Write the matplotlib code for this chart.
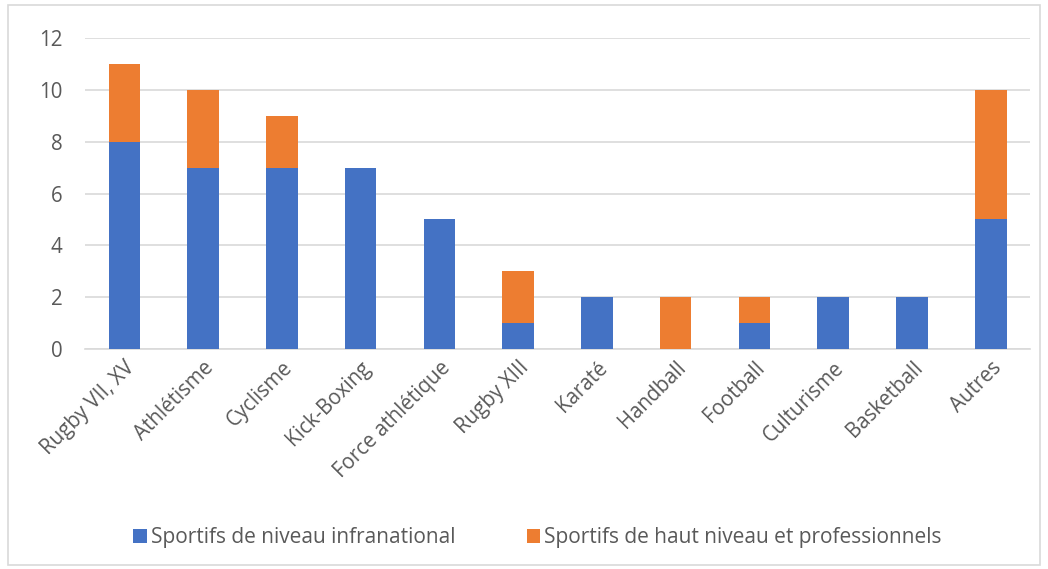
import matplotlib.pyplot as plt
from matplotlib.patches import Rectangle

# Data
categories = ['Rugby VII, XV', 'Athlétisme', 'Cyclisme', 'Kick-Boxing', 'Force athlétique',
              'Rugby XIII', 'Karaté', 'Handball', 'Football', 'Culturisme', 'Basketball', 'Autres']
infranational = [8, 7, 7, 7, 5, 1, 2, 0, 1, 2, 2, 5]
haut_niveau = [3, 3, 2, 0, 0, 2, 0, 2, 1, 0, 0, 5]
series_labels = ['Sportifs de niveau infranational', 'Sportifs de haut niveau et professionnels']
y_ticks = [0, 2, 4, 6, 8, 10, 12]

blue = '#4472C4'
orange = '#ED7D31'
text_color = '#595959'

plt.rcParams['font.family'] = ['Open Sans', 'DejaVu Sans']

fig = plt.figure(figsize=(10.48, 5.69), dpi=100)
ax = fig.add_axes([0.081, 0.3866, 0.902, 0.5466])

x = range(len(categories))
b1 = ax.bar(x, infranational, width=0.4, color=blue, zorder=3)
b2 = ax.bar(x, haut_niveau, width=0.4, bottom=infranational, color=orange, zorder=3)

ax.set_xlim(-0.5, len(categories) - 0.5)
ax.set_ylim(0, 12)
ax.set_yticks(y_ticks)
ax.yaxis.grid(True, color='#D9D9D9', linewidth=1.2, zorder=0)
ax.set_axisbelow(True)
for s in ['top', 'right', 'left']:
    ax.spines[s].set_visible(False)
ax.spines['bottom'].set_color('#D9D9D9')
ax.spines['bottom'].set_linewidth(1.2)
ax.tick_params(axis='both', length=0, labelsize=14.8, labelcolor=text_color)
ax.tick_params(axis='y', pad=16)
ax.set_xticks(list(x))
ax.set_xticklabels(categories, rotation=45, ha='right', rotation_mode='anchor')
ax.tick_params(axis='x', pad=6)

fig.legend([b1, b2], series_labels, loc='center', bbox_to_anchor=(0.513, 0.055),
           ncol=2, frameon=False, fontsize=15, labelcolor=text_color,
           handlelength=0.65, handleheight=0.65, handletextpad=0.2, columnspacing=3.4)

# outer chart border
fig.patches.append(Rectangle((0.008, 0.007), 0.984, 0.985, transform=fig.transFigure,
                             fill=False, edgecolor='#D9D9D9', linewidth=1.2))

plt.savefig('out.png', dpi=100)
